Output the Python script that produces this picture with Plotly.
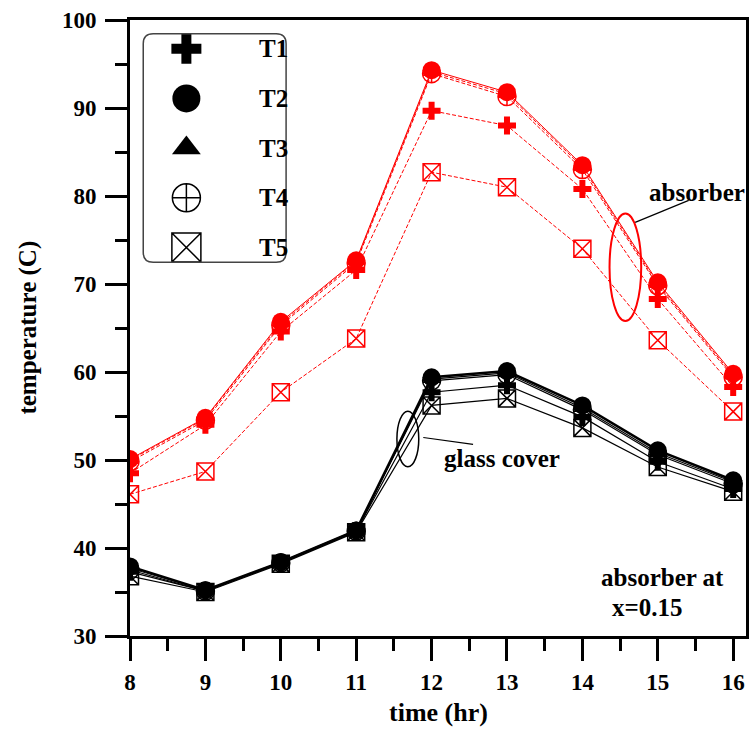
import plotly.graph_objects as go

# ---- data -------------------------------------------------------------
hours = [8, 9, 10, 11, 12, 13, 14, 15, 16]
series_names = ["T1", "T2", "T3", "T4", "T5"]

# absorber temperatures (C)
abs_T1 = [48.5, 54.0, 64.6, 71.6, 89.7, 88.0, 80.8, 68.3, 58.3]
abs_T2 = [50.1, 54.8, 65.7, 72.7, 94.3, 91.8, 83.5, 70.2, 59.8]
abs_T3 = [50.0, 54.7, 65.5, 72.6, 94.1, 91.6, 83.3, 70.0, 59.6]
abs_T4 = [49.8, 54.5, 65.3, 72.4, 93.9, 91.3, 83.0, 69.8, 59.4]
abs_T5 = [46.1, 48.7, 57.7, 63.8, 82.7, 81.0, 74.0, 63.6, 55.5]

# glass cover temperatures (C)
glass_T1 = [37.3, 35.1, 38.3, 41.9, 57.7, 58.5, 54.9, 49.8, 46.7]
glass_T2 = [37.9, 35.2, 38.4, 42.0, 59.4, 60.1, 56.2, 51.1, 47.7]
glass_T3 = [37.7, 35.2, 38.4, 42.0, 59.2, 59.9, 55.9, 50.8, 47.5]
glass_T4 = [37.5, 35.1, 38.3, 41.9, 59.0, 59.7, 55.7, 50.6, 47.3]
glass_T5 = [36.8, 35.0, 38.2, 41.8, 56.2, 57.0, 53.65, 49.2, 46.4]

x_ticks = [8, 9, 10, 11, 12, 13, 14, 15, 16]
y_ticks = [30, 40, 50, 60, 70, 80, 90, 100]

# ---- styling ----------------------------------------------------------
FONT = "Liberation Serif"
RED = "#ff0000"
symbols = {"T1": "cross", "T2": "circle", "T3": "triangle-up",
           "T4": "circle-cross-open", "T5": "square-x-open"}
sizes = {"T1": 15, "T2": 18, "T3": 16, "T4": 18, "T5": 17}
legend_sizes = {"T1": 25, "T2": 28, "T3": 25, "T4": 28, "T5": 29}

absorber = {"T1": abs_T1, "T2": abs_T2, "T3": abs_T3, "T4": abs_T4, "T5": abs_T5}
glass = {"T1": glass_T1, "T2": glass_T2, "T3": glass_T3, "T4": glass_T4, "T5": glass_T5}

draw_order = ["T5", "T4", "T3", "T1", "T2"]

fig = go.Figure()


def marker_for(name, color, size):
    open_sym = symbols[name].endswith("-open")
    return dict(symbol=symbols[name], size=size, color=color,
                line=dict(color=color, width=1.5 if open_sym else 0))


for name in draw_order:
    fig.add_trace(go.Scatter(
        x=hours, y=glass[name], mode="lines+markers", name=name,
        line=dict(color="black", width=2.5 if name == "T2" else 1.2),
        marker=marker_for(name, "black", sizes[name]), showlegend=False))

for name in draw_order:
    fig.add_trace(go.Scatter(
        x=hours, y=absorber[name], mode="lines+markers", name=name,
        line=dict(color=RED, width=1,
                  dash="solid" if name == "T2" else "4px,2px"),
        marker=marker_for(name, RED, sizes[name]), showlegend=False))

# ---- hand-drawn legend box (rows on their own small axis) --------------
box_x = [0.0215, 0.2534]
box_y = [0.6066, 0.9776]
for i, name in enumerate(series_names):
    fig.add_trace(go.Scatter(
        x=[0.302], y=[i], mode="markers", xaxis="x2", yaxis="y2",
        marker=marker_for(name, "black", legend_sizes[name]),
        showlegend=False, hoverinfo="skip"))
    fig.add_annotation(x=0.798, y=i, xref="x2", yref="y2", text=f"<b>{name}</b>",
                       showarrow=False, xanchor="left", yanchor="middle",
                       font=dict(family=FONT, size=25, color="black"))

rx, ry = 0.0161, 0.0162
x0, x1 = box_x
y0, y1 = box_y
box_path = (f"M {x0+rx},{y0} L {x1-rx},{y0} Q {x1},{y0} {x1},{y0+ry} "
            f"L {x1},{y1-ry} Q {x1},{y1} {x1-rx},{y1} L {x0+rx},{y1} "
            f"Q {x0},{y1} {x0},{y1-ry} L {x0},{y0+ry} Q {x0},{y0} {x0+rx},{y0} Z")
fig.add_shape(type="path", path=box_path, xref="paper", yref="paper",
              line=dict(color="#444444", width=1.5), layer="above")

# ---- callouts ---------------------------------------------------------
fig.add_shape(type="circle", xref="x", yref="y", x0=14.36, x1=14.78,
              y0=65.8, y1=78.0, line=dict(color=RED, width=2))
fig.add_shape(type="line", xref="x", yref="y", x0=14.70, y0=77.0,
              x1=15.41, y1=79.5, line=dict(color="black", width=1.2))
fig.add_shape(type="circle", xref="x", yref="y", x0=11.54, x1=11.83,
              y0=49.23, y1=55.55, line=dict(color="black", width=1.5))
fig.add_shape(type="line", xref="x", yref="y", x0=11.89, y0=52.56,
              x1=12.55, y1=51.77, line=dict(color="black", width=1.2))

text_font = dict(family=FONT, size=25, color="black")
for tx, ty, label in [(15.52, 80.45, "absorber"), (12.93, 50.18, "glass cover"),
                      (15.065, 36.7, "absorber at"), (14.86, 33.29, "x=0.15")]:
    fig.add_annotation(x=tx, y=ty, text=f"<b>{label}</b>", showarrow=False,
                       xanchor="center", yanchor="middle", font=text_font)

# axis titles
fig.add_annotation(x=-0.1663, y=0.5, xref="paper", yref="paper",
                   xanchor="center", yanchor="middle",
                   text="<b>temperature (C)</b>", textangle=-90, showarrow=False,
                   font=dict(family=FONT, size=25, color="black"))
fig.add_annotation(x=0.5, y=-0.124, xref="paper", yref="paper",
                   xanchor="center", yanchor="middle", borderpad=0,
                   text="<b>time (hr)</b>", showarrow=False,
                   font=dict(family=FONT, size=26, color="black"))

tick_font = dict(family=FONT, size=23, color="black")
fig.update_layout(
    width=754, height=729,
    margin=dict(l=130, r=4.5, t=19.5, b=93),
    plot_bgcolor="white", paper_bgcolor="white",
    font=dict(family=FONT, color="black"),
    xaxis=dict(range=[8, 16.17], tickvals=x_ticks,
               ticktext=[f"<b>{v}</b>" for v in x_ticks],
               ticks="outside", ticklen=22, tickwidth=3, tickcolor="black",
               minor=dict(dtick=0.5, tick0=8, ticks="outside", ticklen=12,
                          tickwidth=3, tickcolor="black", showgrid=False),
               showline=True, linewidth=3, linecolor="black", mirror=True,
               showgrid=False, zeroline=False, tickfont=tick_font,
               ticklabelstandoff=1),
    yaxis=dict(range=[30, 100], tickvals=y_ticks,
               ticktext=[f"<b>{v}</b>" for v in y_ticks],
               ticks="outside", ticklen=22, tickwidth=3, tickcolor="black",
               minor=dict(dtick=5, tick0=30, ticks="outside", ticklen=12,
                          tickwidth=3, tickcolor="black", showgrid=False),
               showline=True, linewidth=3, linecolor="black", mirror=True,
               showgrid=False, zeroline=False, tickfont=tick_font,
               ticklabelstandoff=4),
    xaxis2=dict(domain=box_x, range=[0, 1], anchor="y2", visible=False,
                fixedrange=True),
    yaxis2=dict(domain=box_y, range=[4.3, -0.3], anchor="x2", visible=False,
                fixedrange=True),
    showlegend=False,
)

fig.write_html("out.html")
